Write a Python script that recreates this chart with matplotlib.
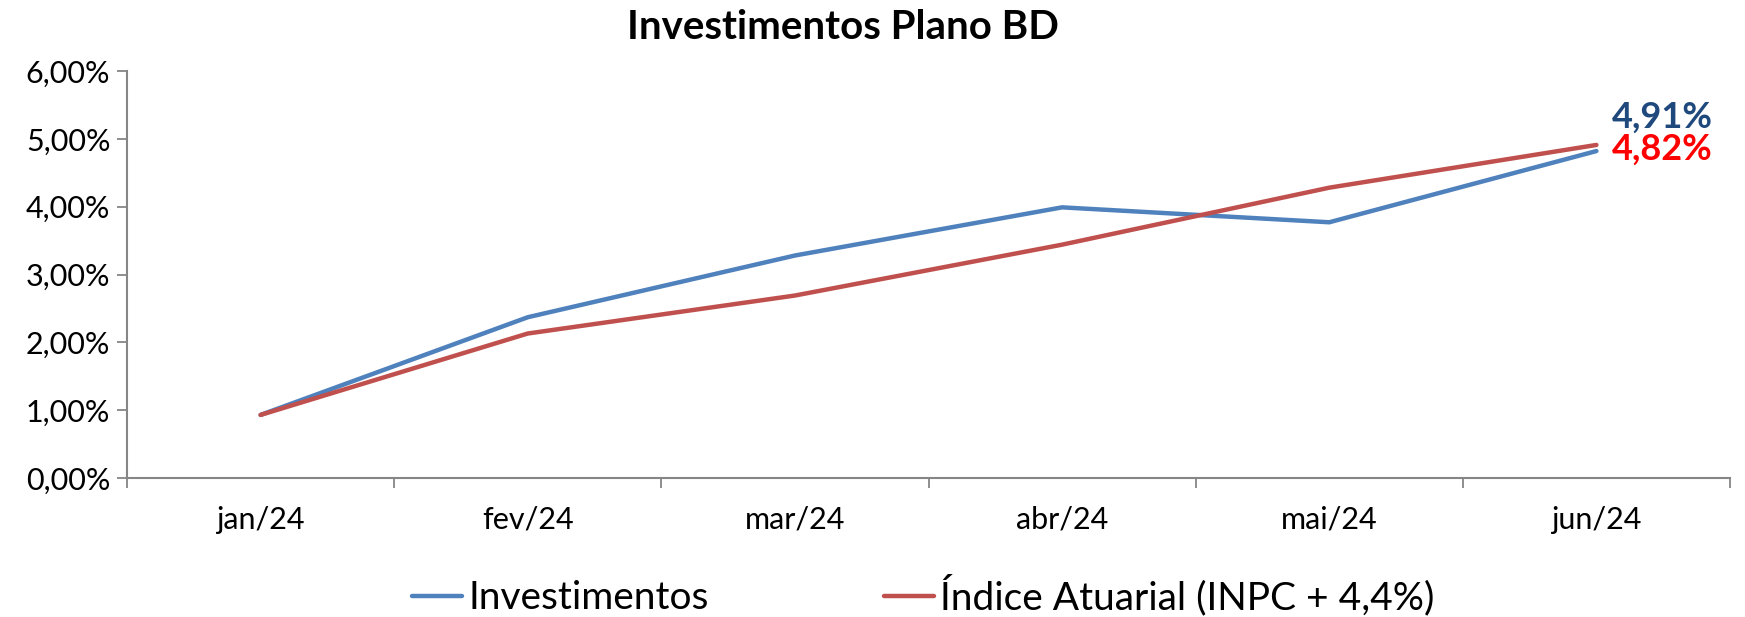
import matplotlib
matplotlib.use('Agg')
import matplotlib.pyplot as plt
from matplotlib.ticker import FixedLocator, FuncFormatter

plt.rcParams['font.family'] = ['Lato', 'DejaVu Sans']

# dados
meses = ['jan/24', 'fev/24', 'mar/24', 'abr/24', 'mai/24', 'jun/24']
investimentos = [0.93, 2.37, 3.28, 3.99, 3.77, 4.82]
indice_atuarial = [0.93, 2.13, 2.69, 3.44, 4.28, 4.91]
nome_inv = 'Investimentos'
nome_ind = 'Índice Atuarial (INPC + 4,4%)'

cor_azul = '#4F81BD'
cor_vermelho = '#C0504D'
cor_eixo = '#868686'

fig = plt.figure(figsize=(17.45, 6.17), dpi=100)
ax = fig.add_axes([0.0728, 0.2253, 0.9186, 0.6596])

x = list(range(len(meses)))
l1, = ax.plot(x, investimentos, color=cor_azul, lw=3.2, solid_capstyle='round', label=nome_inv)
l2, = ax.plot(x, indice_atuarial, color=cor_vermelho, lw=3.2, solid_capstyle='round', label=nome_ind)

# rótulos do último ponto
ax.annotate('4,91%', (x[-1], indice_atuarial[-1]), xytext=(11, 20),
            textcoords='offset points', ha='left', va='center',
            fontsize=26, fontweight='bold', color='#1F497D')
ax.annotate('4,82%', (x[-1], investimentos[-1]), xytext=(11, 1),
            textcoords='offset points', ha='left', va='center',
            fontsize=26, fontweight='bold', color='#FF0000')

ax.set_xlim(-0.5, len(meses) - 0.5)
ax.set_ylim(0, 6)
ax.set_yticks([0, 1, 2, 3, 4, 5, 6])
ax.yaxis.set_major_formatter(FuncFormatter(lambda v, p: f'{v:.2f}%'.replace('.', ',')))

ax.set_xticks(x)
ax.set_xticklabels(meses)
ax.xaxis.set_minor_locator(FixedLocator([i - 0.5 for i in range(len(meses) + 1)]))
ax.tick_params(axis='x', which='major', length=0, pad=20, labelsize=22)
ax.tick_params(axis='x', which='minor', length=7, width=1.3, color=cor_eixo)
ax.tick_params(axis='y', length=7, width=1.3, color=cor_eixo, labelsize=22, pad=5)

for s in ['top', 'right']:
    ax.spines[s].set_visible(False)
for s in ['left', 'bottom']:
    ax.spines[s].set_color(cor_eixo)
    ax.spines[s].set_linewidth(1.5)

# título centrado na figura
fig.text(0.483, 0.955, 'Investimentos Plano BD', fontsize=29, fontweight='bold',
         ha='center', va='center')

fig.legend(handles=[l1, l2], loc='center', bbox_to_anchor=(0.529, 0.035), ncol=2,
           frameon=False, fontsize=28, handlelength=1.3, handletextpad=0.15,
           columnspacing=4.5)

fig.savefig('out.png', dpi=100)
